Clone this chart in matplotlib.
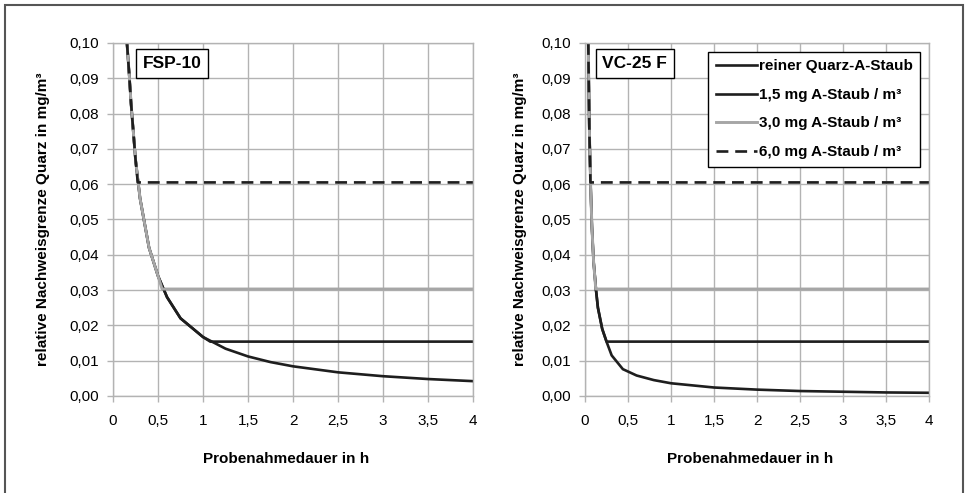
import matplotlib.pyplot as plt
from matplotlib.ticker import FuncFormatter, MultipleLocator
from matplotlib.patches import Rectangle

plt.rcParams['font.family'] = ['Liberation Sans', 'DejaVu Sans']

# Data (relative Nachweisgrenze in mg/m3 vs Probenahmedauer in h)
t_fsp = [0.155, 0.18, 0.2, 0.25, 0.3, 0.4, 0.5, 0.6, 0.75, 1.0, 1.25, 1.5, 1.75, 2.0, 2.5, 3.0, 3.5, 4.0]
pure_fsp = [0.100, 0.091, 0.083, 0.067, 0.056, 0.042, 0.034, 0.028, 0.022, 0.0167, 0.0134, 0.0112,
            0.0096, 0.0084, 0.0067, 0.0056, 0.0048, 0.0042]
join_fsp = [1.08, 0.545, 0.275]

t_vc = [0.038, 0.05, 0.066, 0.08, 0.1, 0.128, 0.15, 0.2, 0.256, 0.31, 0.44, 0.6, 0.8, 1.0, 1.5, 2.0,
        2.5, 3.0, 3.5, 4.0]
pure_vc = [0.100, 0.076, 0.059, 0.048, 0.038, 0.030, 0.025, 0.019, 0.0150, 0.0115, 0.0076, 0.0058,
           0.0045, 0.0036, 0.0024, 0.0018, 0.0014, 0.0012, 0.0010, 0.0009]
join_vc = [0.25, 0.125, 0.063]

levels = [0.0154, 0.0303, 0.0605]
labels = ['reiner Quarz-A-Staub', '1,5 mg A-Staub / m³', '3,0 mg A-Staub / m³', '6,0 mg A-Staub / m³']
panels = ['FSP-10', 'VC-25 F']

BLACK = '#1e1e1e'
GREY = '#a6a6a6'
GRID = '#b3b3b3'
FS = 11


def capped(t, y, join, level):
    # follows the pure curve until it reaches the level, then stays flat
    tt = [a for a in t if a < join]
    yy = [b for a, b in zip(t, y) if a < join]
    return tt + [join, t[-1]], yy + [level, level]


fig = plt.figure(figsize=(9.66, 4.93), dpi=100)
ax1 = fig.add_axes([0.117, 0.1968, 0.3727, 0.716])
ax2 = fig.add_axes([0.6056, 0.1968, 0.3561, 0.716])

styles = [dict(color=BLACK, lw=1.9),
          dict(color=GREY, lw=2.1),
          dict(color=BLACK, lw=1.9, dashes=(4.5, 2.6))]

for ax, t, pure, joins, name, lx in [(ax1, t_fsp, pure_fsp, join_fsp, panels[0], 0.164),
                                     (ax2, t_vc, pure_vc, join_vc, panels[1], 0.145)]:
    ax.plot(t, pure, color=BLACK, lw=1.9, label=labels[0], solid_joinstyle='miter')
    for j, lev, st, lab in zip(joins, levels, styles, labels[1:]):
        xs, ys = capped(t, pure, j, lev)
        ax.plot(xs, ys, label=lab, **st)

    ax.set_xlim(0, 4)
    ax.set_ylim(0, 0.10)
    ax.xaxis.set_major_locator(MultipleLocator(0.5))
    ax.yaxis.set_major_locator(MultipleLocator(0.01))
    ax.xaxis.set_major_formatter(FuncFormatter(lambda v, p: ('%g' % v).replace('.', ',')))
    ax.yaxis.set_major_formatter(FuncFormatter(lambda v, p: ('%.2f' % v).replace('.', ',')))
    ax.grid(True, color=GRID, lw=1.0)
    ax.set_axisbelow(True)
    for s in ax.spines.values():
        s.set_color(GRID)
        s.set_linewidth(1.0)
    ax.tick_params(axis='both', colors=GRID, labelcolor='black', labelsize=FS, length=4, width=1.0)
    ax.tick_params(axis='x', pad=9)
    ax.tick_params(axis='y', pad=6)

    ax.set_xlabel('Probenahmedauer in h', fontsize=FS, fontweight='bold')
    ax.set_ylabel('relative Nachweisgrenze Quarz in mg/m³', fontsize=FS, fontweight='bold')
    ax.xaxis.set_label_coords(0.48, -0.159)

    ax.text(lx, 0.941, name, transform=ax.transAxes, ha='center', va='center',
            fontsize=12.5, fontweight='bold',
            bbox=dict(boxstyle='square,pad=0.4', facecolor='white', edgecolor='black', lw=1.0))

ax1.yaxis.set_label_coords(-0.175, 0.5)
ax2.yaxis.set_label_coords(-0.169, 0.5)

leg = ax2.legend(loc='upper right', bbox_to_anchor=(0.974, 0.975), frameon=True, fancybox=False,
                 edgecolor='black', framealpha=1, prop=dict(size=FS, weight='bold'),
                 handlelength=2.7, handletextpad=0.1, labelspacing=0.95, borderpad=0.5,
                 borderaxespad=0)
leg.get_frame().set_linewidth(1.0)

# outer frame around the figure (open at the bottom edge)
fig.patches.append(Rectangle((4.5 / 966, -0.05), (963 - 4.5) / 966, 1.05 - 4.5 / 493,
                             transform=fig.transFigure, fill=False, edgecolor='#555555', lw=1.5))

fig.savefig('out.png', dpi=100)
